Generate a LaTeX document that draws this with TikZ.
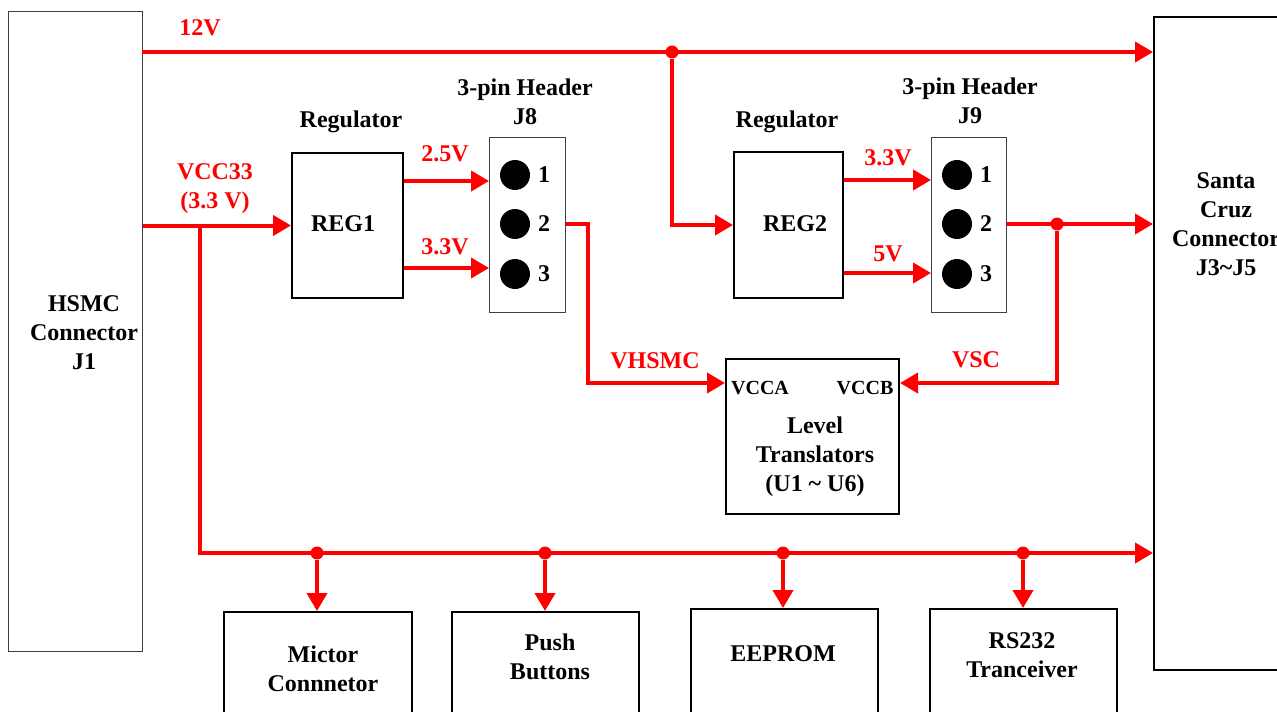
\documentclass[tikz,border=0pt]{standalone}
\usepackage{fontspec}
\setmainfont{Liberation Serif}
\usetikzlibrary{arrows.meta,calc}
\definecolor{pwrR}{RGB}{255,0,0}

\begin{document}
\begin{tikzpicture}[x=0.5pt,y=-0.5pt,>={Triangle[length=9pt,width=10pt]},
  font=\bfseries\fontsize{12}{14.5}\selectfont,
  blk/.style={draw,line width=1pt,inner sep=0pt,anchor=north west},
  thinblk/.style={draw=black!75,line width=0.6pt,inner sep=0pt,anchor=north west},
  txt/.style={align=center,inner sep=0pt},
  rail/.style={pwrR,line width=2pt},
  lbl/.style={pwrR,align=center,inner sep=0pt},
  pindot/.style={fill,circle,minimum size=15pt,inner sep=0pt},
  jn/.style={fill=pwrR,circle,minimum size=6.5pt,inner sep=0pt}]
\useasboundingbox (0,0) rectangle (1277,711);
\node[thinblk,minimum width=67pt,minimum height=320pt] (hsmc) at (8,11) {};
\node[txt] (hsmcT) at (84,333) {HSMC\\Connector\\J1};
\node[blk,minimum width=73pt,minimum height=326.5pt] (sc) at (1153,16) {};
\node[txt] (scT) at (1226,224) {Santa\\Cruz\\Connector\\J3\textasciitilde J5};
\node[blk,minimum width=55.5pt,minimum height=72.5pt] (reg1) at (291,152) {};
\node[txt] (reg1T) at (343,224) {REG1};
\node[txt] (reg1H) at (351,122) {Regulator};
\node[blk,minimum width=54.5pt,minimum height=73pt] (reg2) at (733,151) {};
\node[txt] (reg2T) at (795,224) {REG2};
\node[txt] (reg2H) at (787,122) {Regulator};
\node[thinblk,minimum width=38pt,minimum height=87.5pt] (j8) at (489,137) {};
\node[txt] (j8H) at (525,102) {3-pin Header\\J8};
\node[thinblk,minimum width=37.5pt,minimum height=87.5pt] (j9) at (931,137) {};
\node[txt] (j9H) at (970,101) {3-pin Header\\J9};
\foreach \n/\y in {1/175,2/224,3/274} {
  \node[pindot] (p8\n) at (515,\y) {};
  \node[txt] (p8\n N) at (544,\y) {\n};
  \node[pindot] (p9\n) at (957,\y) {};
  \node[txt] (p9\n N) at (986,\y) {\n};
}
\node[blk,minimum width=86.5pt,minimum height=77.5pt] (lvl) at (725,358) {};
\node[txt,font=\bfseries\fontsize{10}{12}\selectfont] (vccaT) at (760,388) {VCCA};
\node[txt,font=\bfseries\fontsize{10}{12}\selectfont] (vccbT) at (865,388) {VCCB};
\node[txt] (lvlT) at (815,457) {Level\\Translators\\(U1 \textasciitilde{} U6)};
\node[blk,minimum width=94pt,minimum height=60pt] (mictor) at (223,611) {};
\node[txt] (mictorT) at (323,669) {Mictor\\Connnetor};
\node[blk,minimum width=93.5pt,minimum height=60pt] (push) at (451,611) {};
\node[txt] (pushT) at (550,657) {Push\\Buttons};
\node[blk,minimum width=93.5pt,minimum height=60pt] (eeprom) at (690,608) {};
\node[txt] (eepromT) at (783,654) {EEPROM};
\node[blk,minimum width=93.5pt,minimum height=60pt] (rs232) at (929,608) {};
\node[txt] (rs232T) at (1022,655) {RS232\\Tranceiver};
\coordinate (v12) at (142,52);
\coordinate (tap33) at (200,224.5);
\coordinate (busL) at (200,553);
\coordinate (vcca) at (588,383);
\coordinate (vccb) at (1057,383);
\draw[rail,->] (v12) -- (v12 -| sc.west);
\node[jn] (j12) at (672,52) {};
\draw[rail,->] (j12) |- (reg2.west);
\draw[rail,->] (hsmc.east |- reg1.west) -- (reg1.west);
\draw[rail,->] (tap33) |- (busL -| sc.west);
\foreach \b/\x in {mictor/317,push/545,eeprom/783,rs232/1023} {
  \node[jn] (t\b) at (\x,553) {};
  \draw[rail,->] (t\b) -- (t\b |- \b.north);
}
\draw[rail,->] (reg1.east |- 0,181) -- (j8.west |- 0,181);
\draw[rail,->] (reg1.east |- 0,268) -- (j8.west |- 0,268);
\draw[rail,->] (reg2.east |- 0,180) -- (j9.west |- 0,180);
\draw[rail,->] (reg2.east |- 0,273) -- (j9.west |- 0,273);
\draw[rail,->] (j8.east |- p82) -| (vcca) -- (vcca -| lvl.west);
\node[jn] (jsc) at (1057,224) {};
\draw[rail,->] (j9.east |- p92) -- (p92 -| sc.west);
\draw[rail,->] (jsc) -- (vccb) -- (vccb -| lvl.east);
\node[lbl] (l12) at (200,28) {12V};
\node[lbl] (l33) at (215,189) {VCC33\\(3.3 V)};
\node[lbl] (l25a) at (445,154) {2.5V};
\node[lbl] (l33a) at (445,247) {3.3V};
\node[lbl] (l33b) at (888,158) {3.3V};
\node[lbl] (l5b) at (888,254) {5V};
\node[lbl] (lvh) at (655,361) {VHSMC};
\node[lbl] (lvsc) at (976,360) {VSC};
\end{tikzpicture}
\end{document}
